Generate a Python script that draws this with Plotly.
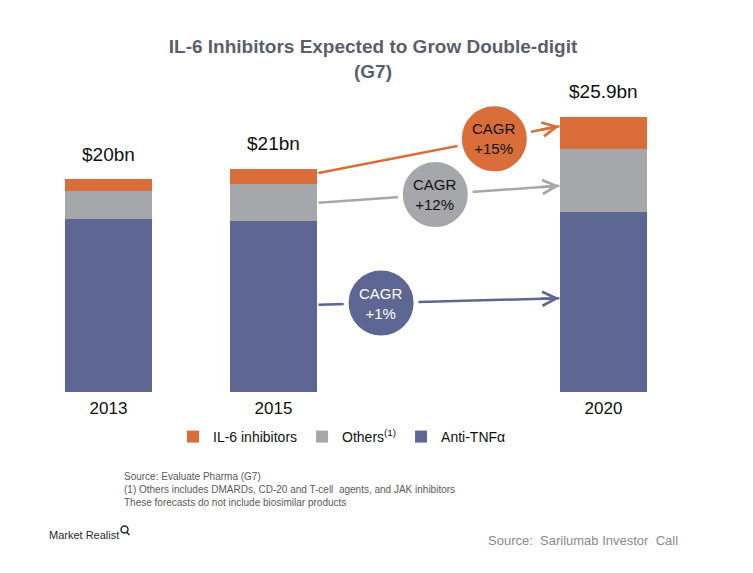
import plotly.graph_objects as go

# ---------------- data ----------------
years = ["2013", "2015", "2020"]
x_pos = [0, 1, 3]                      # 2020 sits further to the right
anti_tnf = [16.3, 16.1, 16.95]
others = [2.6, 3.45, 5.95]
il6 = [1.1, 1.45, 3.0]
total_labels = ["$20bn", "$21bn", "$25.9bn"]
cagr_labels = ["+1%", "+12%", "+15%"]   # Anti-TNF, Others, IL-6

# ---------------- style ----------------
C_ORANGE = "#D96E3B"
C_GRAY = "#A6A7AA"
C_BLUE = "#5E6694"
BAR_W = 0.525
W, H = 753, 573
L, R, T, B = 26, 67, 73, 181
PW, PH = W - L - R, H - T - B
FONT = "Liberation Sans, Arial, sans-serif"
NARROW = "Liberation Sans Narrow, Arial Narrow, Liberation Sans, Arial, sans-serif"


def px_x(px):
    return (px - L) / PW


def px_y(py):
    return (H - B - py) / PH


fig = go.Figure()
fig.add_trace(go.Bar(x=x_pos, y=anti_tnf, name="Anti-TNFα", marker_color=C_BLUE,
                     width=BAR_W, marker_line_width=0))
fig.add_trace(go.Bar(x=x_pos, y=others, name="Others<sup>(1)</sup>", marker_color=C_GRAY,
                     width=BAR_W, marker_line_width=0))
fig.add_trace(go.Bar(x=x_pos, y=il6, name="IL-6 inhibitors", marker_color=C_ORANGE,
                     width=BAR_W, marker_line_width=0))

# totals above bars
totals = [a + o + i for a, o, i in zip(anti_tnf, others, il6)]
for xp, tot, lab in zip(x_pos, totals, total_labels):
    fig.add_annotation(x=xp, y=tot, text=lab, showarrow=False, yanchor="middle",
                       yshift=25, font=dict(family=FONT, size=19, color="#111111"))

# CAGR connectors from 2015 to 2020
i15, i20 = x_pos.index(1), x_pos.index(3)
bases15 = [0, anti_tnf[i15], anti_tnf[i15] + others[i15]]
bases20 = [0, anti_tnf[i20], anti_tnf[i20] + others[i20]]
segs15 = [anti_tnf[i15], others[i15], il6[i15]]
segs20 = [anti_tnf[i20], others[i20], il6[i20]]
colors = [C_BLUE, C_GRAY, C_ORANGE]
text_colors = ["#ffffff", "#111111", "#111111"]
start_frac = [0.51, 0.49, 0.72]
end_frac = [0.52, 0.41, 0.70]
circ_frac = [0.26, 0.485, 0.73]

x_tail = x_pos[i15] + BAR_W / 2 + 0.01
x_head = x_pos[i20] - BAR_W / 2 - 0.005
for k in range(3):
    y0 = bases15[k] + segs15[k] * start_frac[k]
    y1 = bases20[k] + segs20[k] * end_frac[k]
    fig.add_trace(go.Scatter(x=[x_tail, x_head], y=[y0, y1], mode="lines",
                             line=dict(color=colors[k], width=2.5),
                             showlegend=False, hoverinfo="skip"))
    cx = x_tail + (x_head - x_tail) * circ_frac[k]
    cy = y0 + (y1 - y0) * circ_frac[k]
    fig.add_trace(go.Scatter(x=[cx], y=[cy], mode="markers",
                             marker=dict(size=70, color=colors[k],
                                         line=dict(color="white", width=5)),
                             showlegend=False, hoverinfo="skip"))
    fig.add_annotation(x=cx, y=cy, text="CAGR<br>" + cagr_labels[k], showarrow=False,
                       font=dict(family=FONT, size=15, color=text_colors[k]))
    # arrow head
    dx = 0.12
    fig.add_annotation(x=x_head, y=y1, ax=x_head - dx,
                       ay=y1 - (y1 - y0) * dx / (x_head - x_tail),
                       axref="x", ayref="y", xref="x", yref="y", text="",
                       showarrow=True, arrowhead=5, arrowsize=1.1, arrowwidth=2.5,
                       arrowcolor=colors[k], standoff=0)

# footnotes
fig.add_annotation(xref="paper", yref="paper", x=px_x(122), y=px_y(469),
                   xanchor="left", yanchor="top", align="left", showarrow=False,
                   text="Source: Evaluate Pharma (G7)<br>(1) Others includes DMARDs, CD-20 and T-cell  agents, and JAK inhibitors<br>These forecasts do not include biosimilar products",
                   font=dict(family=FONT, size=10, color="#5a5a5a"))
fig.add_annotation(xref="paper", yref="paper", x=px_x(47), y=px_y(535),
                   xanchor="left", yanchor="middle", showarrow=False,
                   text="Market Realist",
                   font=dict(family=NARROW, size=11, color="#2b2b2b"))
fig.add_annotation(xref="paper", yref="paper", x=px_x(680), y=px_y(540),
                   xanchor="right", yanchor="middle", showarrow=False,
                   text="Source:\u00a0 Sarilumab Investor\u00a0 Call",
                   font=dict(family=NARROW, size=13, color="#8a8a8a"))
# magnifier glyph of logo
fig.add_shape(type="circle", xref="paper", yref="paper",
              x0=px_x(121), x1=px_x(128), y0=px_y(533), y1=px_y(526),
              line=dict(color="#2b2b2b", width=1.5))
fig.add_shape(type="line", xref="paper", yref="paper",
              x0=px_x(126.5), x1=px_x(129.5), y0=px_y(532), y1=px_y(535),
              line=dict(color="#2b2b2b", width=1.5))

fig.update_layout(
    width=W, height=H,
    margin=dict(l=L, r=R, t=T, b=B),
    barmode="stack",
    bargap=0,
    plot_bgcolor="white", paper_bgcolor="white",
    title=dict(text="IL-6 Inhibitors Expected to Grow Double-digit<br>(G7)",
               x=373 / W, xanchor="center", xref="container",
               y=1 - 53 / H, yanchor="top", yref="container",
               font=dict(family=FONT, size=19, color="#5B5F6C", weight="bold")),
    xaxis=dict(range=[-0.5, 3.5], tickmode="array", tickvals=x_pos, ticktext=years,
               showgrid=False, zeroline=False, showline=False, ticks="",
               ticklabelstandoff=4,
               tickfont=dict(family=FONT, size=17, color="#111111")),
    yaxis=dict(range=[0, 30], visible=False, showgrid=False),
    legend=dict(orientation="h", traceorder="reversed", x=px_x(342), xanchor="center",
                y=px_y(437), yanchor="middle",
                font=dict(family=FONT, size=14, color="#111111")),
    showlegend=True,
)

fig.write_html("out.html", config={"displayModeBar": False},
               post_script="document.body.style.margin='0px';")
